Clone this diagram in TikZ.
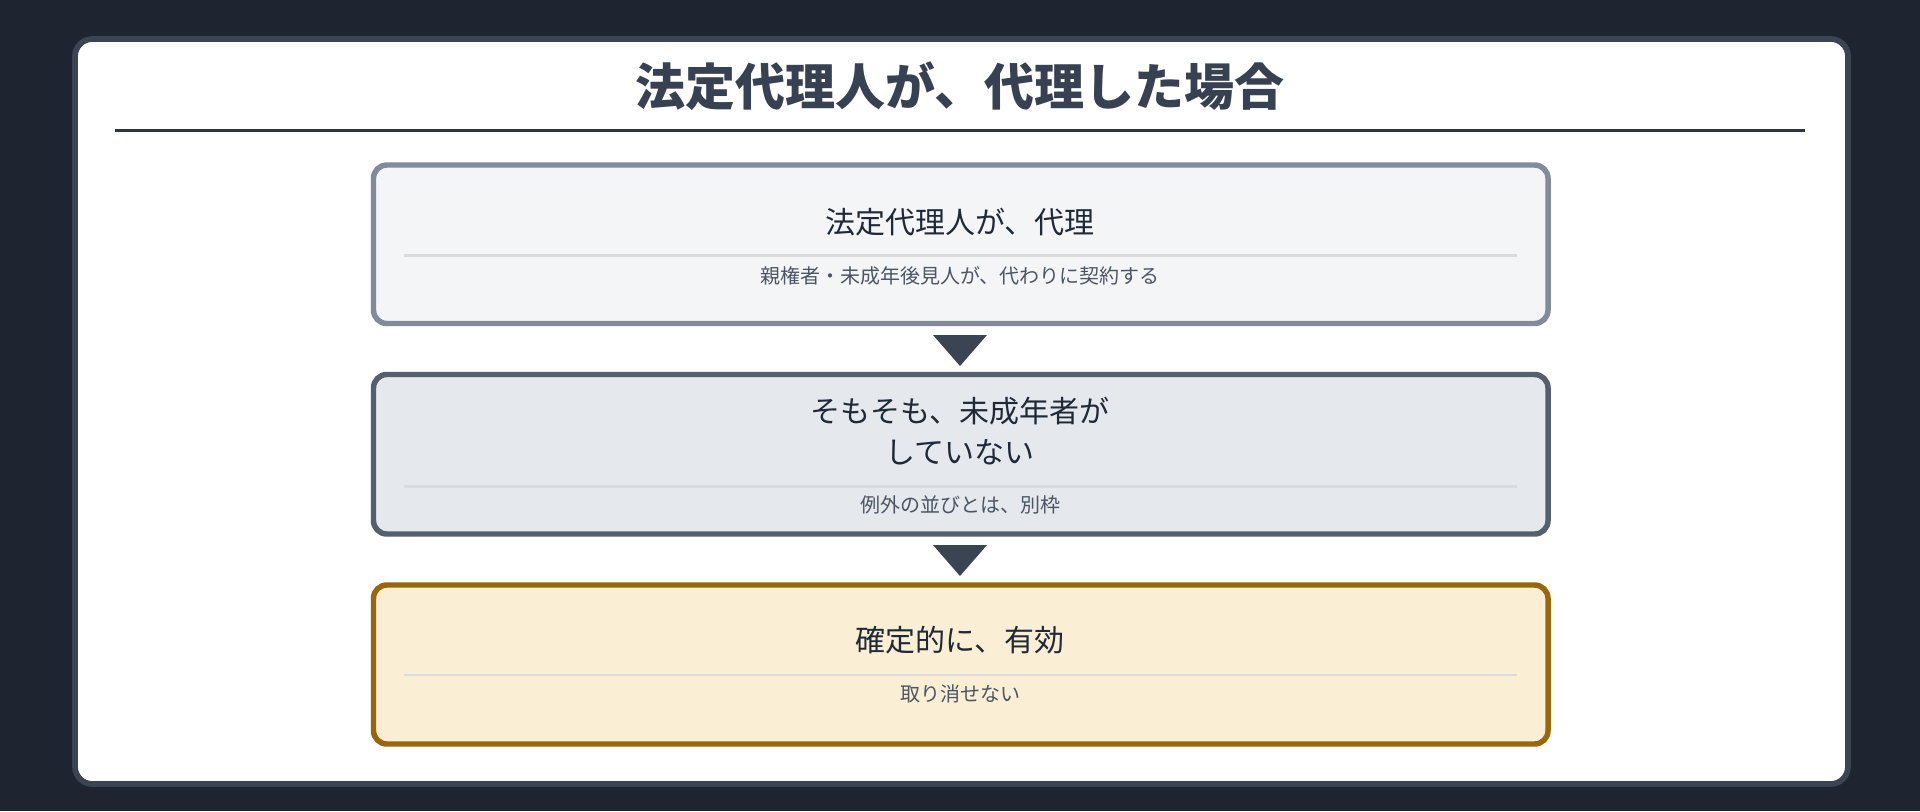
\documentclass[tikz,border=0pt]{standalone}
\usepackage{fontspec}
\setmainfont{Noto Sans CJK JP}
\usepackage{xcolor}

\definecolor{bgdark}{HTML}{1E2530}
\definecolor{panelline}{HTML}{3B4453}
\definecolor{titleink}{HTML}{374151}
\definecolor{ruleink}{HTML}{2F3642}
\definecolor{ink}{HTML}{1F2937}
\definecolor{subink}{HTML}{4B5563}
\definecolor{divgray}{HTML}{D9DBDE}
\definecolor{repline}{HTML}{828B99}
\definecolor{repfill}{HTML}{F4F5F7}
\definecolor{noneline}{HTML}{565F6D}
\definecolor{nonefill}{HTML}{E5E8EC}
\definecolor{validline}{HTML}{98670B}
\definecolor{validfill}{HTML}{FAEFD4}

\begin{document}
\begin{tikzpicture}[x=0.75pt, y=-0.75pt,
    box/.style={line width=4.1pt, rounded corners=10pt},
    divider/.style={draw=divgray, line width=2pt},
    maintext/.style={text=ink, font=\fontsize{22.5}{30.75}\selectfont, align=center, inner sep=0pt},
    subtext/.style={text=subink, font=\fontsize{15}{18}\selectfont, inner sep=0pt}]

    % Dark background and white panel
    \fill[bgdark] (0, 0) rectangle (1920, 811);
    \draw[fill=white, draw=panelline, line width=4.3pt, rounded corners=13pt] (75, 39) rectangle (1848, 784);

    % Title
    \node[text=titleink, font=\fontsize{37.5}{44}\bfseries\selectfont, inner sep=0pt] (title) at (960, 86) {法定代理人が、代理した場合};

    \draw[draw=ruleink, line width=2.3pt] (115, 130.5) -- (1805, 130.5);


    % First box: representation
    \draw[box, draw=repline, fill=repfill] (373.5, 165) rectangle (1548, 323.5);

    \node[maintext] (rep) at (960, 222) {法定代理人が、代理};

    \coordinate (repl) at (404, 255.6);
    \coordinate (repr) at (1517, 255.6);
    \draw[divider] (repl) -- (repr);

    \node[subtext] (repnote) at (960, 275.5) {親権者・未成年後見人が、代わりに契約する};


    % Triangle between first and second box
    \fill[panelline] (933, 335) -- (987, 335) -- (960, 366) -- cycle;


    % Second box: minor did not act
    \draw[box, draw=noneline, fill=nonefill] (373.5, 374.5) rectangle (1548, 534);

    \node[maintext] (none) at (960, 431) {そもそも、未成年者が\\していない};

    \coordinate (nonel) at (404, 486.5);
    \coordinate (noner) at (1517, 486.5);
    \draw[divider] (nonel) -- (noner);

    \node[subtext] (nonenote) at (960, 505) {例外の並びとは、別枠};


    % Triangle between second and third box
    \fill[panelline] (933, 545) -- (987, 545) -- (960, 576) -- cycle;


    % Third box: valid
    \draw[box, draw=validline, fill=validfill] (373.5, 585) rectangle (1548, 744);

    \node[maintext] (valid) at (960, 640) {確定的に、有効};

    \coordinate (validl) at (404, 675);
    \coordinate (validr) at (1517, 675);
    \draw[divider] (validl) -- (validr);

    \node[subtext] (validnote) at (960, 694) {取り消せない};

\end{tikzpicture}
\end{document}
